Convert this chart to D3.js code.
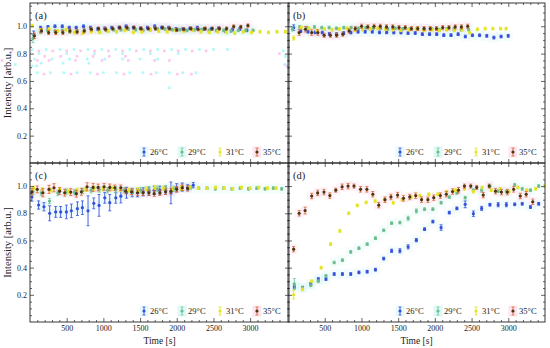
<!DOCTYPE html>
<html>
<head>
<meta charset="utf-8">
<script src="https://cdn.jsdelivr.net/npm/d3@7"></script>
<style>
  body { margin: 0; background: #fff; }
  text { font-family: "Liberation Serif", "DejaVu Serif", serif; }
</style>
</head>
<body>
<div id="chart"></div>
<script>
// ---- data: [time s, intensity, error] ----
const temps = ["26°C", "29°C", "31°C", "35°C"]
const panelLabels = ["(a)", "(b)", "(c)", "(d)"]
const xMajor = [500, 1000, 1500, 2000, 2500, 3000]
const yMajor = [0.2, 0.4, 0.6, 0.8, 1.0]

const a26 = [[50,0.94,0.025],[145,0.99,0.01],[245,0.995,0.01],[340,1.0,0.01],[440,1.0,0.01],[535,0.99,0.01],[630,0.99,0.01],[730,1.0,0.01],[825,0.99,0.01],[925,0.98,0.01],[1020,0.985,0.01],[1115,0.99,0.01],[1215,0.99,0.01],[1310,1.0,0.01],[1410,0.99,0.01],[1505,0.985,0.01],[1600,0.99,0.01],[1700,1.0,0.01],[1795,0.99,0.01],[1890,0.99,0.01],[1990,0.98,0.01],[2085,0.98,0.01],[2180,0.985,0.01],[2280,0.99,0.01],[2375,0.98,0.01],[2470,0.98,0.01],[2570,0.985,0.01],[2665,0.965,0.01],[2760,0.975,0.01],[2860,0.98,0.01],[2955,0.97,0.01]]
const a29 = [[40,0.91,0.03],[140,0.96,0.015],[240,0.97,0.01],[340,0.965,0.01],[440,0.97,0.01],[540,0.96,0.01],[640,0.965,0.01],[740,0.97,0.01],[840,0.975,0.01],[940,0.97,0.01],[1040,0.97,0.01],[1140,0.975,0.01],[1240,0.975,0.01],[1340,0.98,0.01],[1440,0.975,0.01],[1540,0.97,0.01],[1640,0.975,0.01],[1740,0.98,0.01],[1840,0.98,0.01],[1940,0.975,0.01],[2040,0.975,0.01],[2140,0.97,0.01],[2240,0.975,0.01],[2340,0.975,0.01],[2440,0.97,0.01],[2540,0.97,0.01],[2640,0.97,0.01],[2740,0.965,0.01],[2840,0.97,0.01],[2940,0.97,0.01],[3040,0.97,0.01]]
const a31 = [[30,1.005,0.01],[145,0.975,0.01],[260,0.98,0.01],[375,0.965,0.01],[490,0.975,0.01],[605,0.955,0.01],[720,0.95,0.01],[835,0.96,0.01],[950,0.955,0.01],[1065,0.965,0.01],[1180,0.96,0.01],[1295,0.97,0.01],[1410,0.955,0.01],[1525,0.96,0.01],[1640,0.975,0.01],[1755,0.965,0.01],[1870,0.96,0.01],[1985,0.97,0.01],[2100,0.965,0.01],[2215,0.97,0.01],[2330,0.96,0.01],[2445,0.955,0.01],[2560,0.96,0.01],[2675,0.955,0.01],[2790,0.95,0.01],[2905,0.96,0.01],[3020,0.955,0.01],[3135,0.96,0.01],[3250,0.955,0.01],[3365,0.96,0.01],[3480,0.96,0.01]]
const a35 = [[60,0.93,0.02],[157,0.966,0.015],[254,0.954,0.015],[351,0.954,0.015],[448,0.954,0.015],[545,0.966,0.015],[642,0.959,0.015],[739,0.966,0.015],[836,0.978,0.012],[933,0.983,0.012],[1030,0.978,0.012],[1127,0.983,0.012],[1224,0.99,0.012],[1321,0.99,0.012],[1418,0.99,0.012],[1515,0.983,0.012],[1612,0.983,0.012],[1709,0.983,0.012],[1806,0.99,0.012],[1903,0.983,0.012],[2000,0.973,0.012],[2097,0.978,0.012],[2194,0.983,0.012],[2291,0.978,0.012],[2388,0.983,0.012],[2485,0.983,0.012],[2582,0.983,0.012],[2679,0.983,0.012],[2776,0.998,0.012],[2873,0.995,0.012],[2970,1.005,0.012]]

const b26 = [[77,0.99,0.02],[174,0.965,0.01],[272,0.96,0.01],[369,0.955,0.01],[467,0.954,0.01],[564,0.945,0.01],[661,0.942,0.01],[759,0.95,0.01],[856,0.954,0.01],[954,0.96,0.01],[1051,0.96,0.01],[1148,0.96,0.01],[1246,0.955,0.01],[1343,0.955,0.01],[1441,0.954,0.01],[1538,0.954,0.01],[1635,0.95,0.01],[1733,0.95,0.01],[1830,0.942,0.01],[1928,0.942,0.01],[2025,0.942,0.01],[2122,0.935,0.01],[2220,0.935,0.01],[2317,0.942,0.01],[2415,0.925,0.01],[2512,0.934,0.01],[2609,0.934,0.01],[2707,0.93,0.01],[2804,0.917,0.01],[2902,0.925,0.01],[2999,0.93,0.01]]
const b29 = [[60,0.98,0.015],[160,0.995,0.01],[260,0.99,0.01],[360,0.995,0.01],[460,0.99,0.01],[560,0.99,0.01],[660,0.985,0.01],[760,0.99,0.01],[860,0.99,0.01],[960,0.985,0.01],[1060,0.99,0.01],[1160,0.985,0.01],[1260,0.985,0.01],[1360,0.98,0.01],[1460,0.985,0.01],[1560,0.98,0.01],[1660,0.98,0.01],[1760,0.985,0.01],[1860,0.98,0.01],[1960,0.98,0.01],[2060,0.975,0.01],[2160,0.98,0.01],[2260,0.98,0.01],[2360,0.975,0.01],[2460,0.975,0.01]]
const b31 = [[77,0.914,0.015],[180,0.99,0.01],[285,0.985,0.01],[390,0.97,0.01],[495,0.98,0.01],[600,0.975,0.01],[700,0.98,0.01],[805,0.985,0.01],[910,0.97,0.01],[1015,0.975,0.01],[1120,0.98,0.01],[1225,0.985,0.01],[1330,0.98,0.01],[1430,0.975,0.01],[1535,0.97,0.01],[1640,0.975,0.01],[1745,0.98,0.01],[1850,0.97,0.01],[1955,0.975,0.01],[2060,0.97,0.01],[2160,0.975,0.01],[2265,0.97,0.01],[2370,0.975,0.01],[2475,0.954,0.01],[2580,0.978,0.01],[2685,0.983,0.01],[2790,0.983,0.01],[2895,0.983,0.01],[2970,0.983,0.01]]
const b35 = [[152,0.954,0.02],[237,0.978,0.02],[322,0.954,0.02],[407,0.954,0.02],[492,0.934,0.015],[577,0.934,0.015],[662,0.934,0.015],[747,0.942,0.015],[832,0.966,0.015],[917,0.983,0.015],[1002,1.0,0.015],[1087,0.995,0.015],[1172,1.0,0.015],[1257,1.0,0.015],[1342,0.995,0.015],[1427,0.995,0.015],[1512,0.99,0.015],[1597,0.99,0.015],[1682,0.983,0.015],[1767,0.983,0.015],[1852,0.983,0.015],[1937,0.983,0.015],[2022,0.983,0.015],[2107,0.99,0.015],[2192,0.99,0.015],[2277,0.995,0.015],[2362,0.995,0.015],[2447,1.0,0.015]]

const c26 = [[26,0.919,0.03],[117,0.861,0.03],[190,0.848,0.03],[268,0.80,0.055],[350,0.81,0.04],[418,0.81,0.04],[496,0.81,0.05],[564,0.818,0.05],[646,0.834,0.05],[714,0.841,0.05],[791,0.818,0.11],[869,0.873,0.04],[941,0.858,0.08],[1019,0.914,0.04],[1087,0.878,0.06],[1169,0.914,0.04],[1238,0.926,0.05],[1315,0.951,0.04],[1392,0.951,0.03],[1466,0.951,0.03],[1542,0.958,0.03],[1620,0.963,0.03],[1693,0.97,0.03],[1770,0.97,0.03],[1848,0.97,0.03],[1921,0.95,0.08],[1999,0.988,0.03],[2075,0.993,0.03],[2150,0.99,0.02],[2225,1.007,0.02]]
const c29 = [[40,0.96,0.02],[153,0.95,0.02],[266,0.89,0.02],[379,0.95,0.02],[492,0.96,0.02],[605,0.955,0.02],[718,0.965,0.02],[831,0.97,0.02],[944,0.975,0.02],[1057,0.97,0.02],[1170,0.975,0.02],[1283,0.97,0.02],[1396,0.965,0.02],[1509,0.97,0.02],[1622,0.975,0.02],[1735,0.98,0.02],[1848,0.985,0.02],[1961,0.98,0.02],[2074,0.985,0.02],[2187,0.99,0.015],[2300,0.985,0.01],[2413,0.985,0.01],[2526,0.98,0.01],[2639,0.985,0.01],[2752,0.98,0.01],[2865,0.985,0.01],[2978,0.98,0.01],[3091,0.985,0.01],[3204,0.98,0.01],[3317,0.985,0.01],[3430,0.98,0.01]]
const c31 = [[50,0.985,0.015],[168,0.975,0.015],[286,0.97,0.015],[404,0.975,0.015],[522,0.96,0.015],[640,0.97,0.015],[758,0.975,0.015],[876,0.985,0.015],[994,0.98,0.015],[1112,0.985,0.015],[1230,0.975,0.015],[1348,0.97,0.015],[1466,0.975,0.015],[1584,0.98,0.015],[1702,0.99,0.015],[1820,0.985,0.015],[1938,0.98,0.015],[2056,0.985,0.015],[2174,0.99,0.01],[2292,0.985,0.01],[2410,0.985,0.01],[2528,0.99,0.01],[2646,0.985,0.01],[2764,0.98,0.01],[2882,0.99,0.01],[3000,0.985,0.01],[3118,0.99,0.01],[3236,0.985,0.01],[3354,0.985,0.01]]
const c35 = [[26,0.958,0.025],[99,0.976,0.025],[176,0.951,0.03],[259,0.976,0.03],[327,0.988,0.03],[404,0.963,0.025],[473,0.951,0.025],[555,0.956,0.025],[632,0.944,0.025],[700,0.958,0.025],[778,0.995,0.03],[860,0.99,0.03],[928,0.99,0.025],[1010,0.995,0.025],[1087,0.99,0.025],[1156,0.988,0.02],[1238,0.988,0.02],[1306,0.963,0.02],[1384,0.958,0.02],[1466,0.951,0.02],[1542,0.951,0.02],[1620,0.951,0.02],[1693,0.944,0.02],[1770,0.951,0.02],[1848,0.958,0.02],[1921,0.963,0.02],[1999,0.976,0.02],[2075,0.988,0.02],[2148,0.983,0.02]]

const d26 = [[86,0.26,0.015],[198,0.25,0.01],[310,0.28,0.01],[413,0.316,0.01],[517,0.316,0.01],[629,0.353,0.01],[741,0.353,0.01],[854,0.353,0.01],[966,0.365,0.01],[1078,0.37,0.01],[1191,0.385,0.01],[1303,0.467,0.01],[1411,0.524,0.012],[1524,0.524,0.015],[1636,0.553,0.015],[1748,0.602,0.012],[1860,0.683,0.01],[1973,0.739,0.01],[2085,0.695,0.02],[2197,0.805,0.01],[2300,0.836,0.01],[2413,0.866,0.025],[2525,0.797,0.02],[2637,0.836,0.015],[2750,0.863,0.01],[2862,0.863,0.015],[2974,0.863,0.015],[3087,0.866,0.01],[3190,0.87,0.01],[3302,0.846,0.01],[3414,0.87,0.01]]
const d29 = [[86,0.28,0.04],[198,0.25,0.015],[310,0.27,0.01],[413,0.30,0.01],[517,0.34,0.01],[629,0.438,0.01],[741,0.455,0.01],[854,0.516,0.01],[966,0.543,0.01],[1078,0.573,0.01],[1191,0.617,0.01],[1303,0.675,0.01],[1411,0.727,0.01],[1524,0.732,0.01],[1636,0.763,0.015],[1748,0.817,0.015],[1860,0.83,0.01],[1973,0.83,0.01],[2085,0.878,0.01],[2197,0.919,0.01],[2300,0.95,0.01],[2413,0.915,0.01],[2525,0.97,0.01],[2637,0.97,0.015],[2750,1.0,0.01],[2862,0.963,0.01],[2974,0.96,0.01],[3087,1.01,0.01],[3190,0.98,0.01],[3302,0.97,0.01],[3414,1.0,0.01]]
const d31 = [[77,0.20,0.03],[198,0.24,0.01],[323,0.30,0.01],[451,0.40,0.01],[580,0.573,0.01],[705,0.67,0.01],[827,0.80,0.01],[943,0.858,0.01],[1065,0.88,0.01],[1186,0.89,0.01],[1312,0.90,0.01],[1433,0.877,0.01],[1555,0.90,0.01],[1676,0.92,0.01],[1797,0.93,0.01],[1918,0.94,0.01],[2040,0.94,0.01],[2161,0.96,0.01],[2282,0.97,0.01],[2403,0.98,0.01],[2525,0.96,0.01],[2646,0.99,0.01],[2767,0.97,0.01],[2889,0.98,0.01],[3010,0.96,0.01],[3131,0.99,0.01],[3252,0.97,0.01],[3374,0.98,0.01],[3495,1.0,0.01]]
const d35 = [[77,0.536,0.02],[152,0.80,0.02],[233,0.82,0.025],[323,0.927,0.02],[404,0.95,0.02],[490,0.956,0.02],[570,0.93,0.02],[651,0.97,0.015],[737,0.995,0.02],[818,1.0,0.02],[899,1.0,0.015],[988,0.976,0.02],[1074,0.976,0.02],[1155,0.94,0.02],[1236,0.86,0.02],[1321,0.90,0.02],[1402,0.92,0.02],[1492,0.934,0.02],[1573,0.91,0.02],[1658,0.92,0.02],[1739,0.93,0.02],[1819,0.90,0.02],[1905,0.90,0.02],[1985,0.915,0.02],[2075,0.93,0.02],[2156,0.94,0.02],[2241,0.96,0.02],[2322,0.97,0.02],[2403,1.0,0.015],[2489,1.0,0.015],[2570,0.99,0.015],[2659,0.934,0.02],[2740,1.0,0.015],[2826,0.963,0.02],[2907,0.956,0.02],[2988,0.956,0.02],[3073,0.976,0.02],[3163,0.927,0.02],[3244,0.94,0.02],[3333,0.885,0.02]]

// faint ghost marks seen in panel (a)
const ghostCyan = [[30,0.83],[220,0.83],[410,0.83],[600,0.83],[790,0.83],[980,0.83],[1170,0.83],[1360,0.83],[1550,0.83],[1740,0.83],[1930,0.83],[2120,0.83],[2310,0.83],[2500,0.83],[2690,0.83],
  [120,0.80],[500,0.80],[880,0.80],[1260,0.80],[1640,0.80],[2020,0.80],
  [60,0.76],[300,0.76],[540,0.76],[780,0.76],[1020,0.76],[1260,0.76],[1500,0.76],[1740,0.76],
  [150,0.73],[450,0.73],[800,0.73],[30,0.71],[90,0.71],
  [100,0.66],[280,0.66],[460,0.66],[640,0.66],[820,0.66],[1000,0.66],[1180,0.66],[1360,0.66],[1540,0.66],[1720,0.66],[1900,0.66],[2080,0.66],[2260,0.66],
  [1900,0.55],[3450,0.82],[3480,0.78],[3470,0.72],[-300,0.79],[-200,0.72]]
const ghostPink = [[120,0.82],[310,0.82],[500,0.82],[690,0.82],[880,0.82],[1070,0.82],[1260,0.82],[1450,0.82],[1640,0.82],[1830,0.82],[2020,0.82],[2210,0.82],[2400,0.82],
  [200,0.78],[420,0.78],[640,0.78],[860,0.78],[1080,0.78],[1300,0.78],
  [100,0.75],[260,0.75],[620,0.75],[980,0.75],[1340,0.75],[1700,0.75],[1900,0.75],
  [190,0.65],[560,0.65],[920,0.65],[1280,0.65],[1650,0.65],[2010,0.65],[2200,0.65],
  [3400,0.80],[3500,0.71],[-380,0.75],[-260,0.81]]

const panelData = [[a26, a29, a31, a35], [b26, b29, b31, b35], [c26, c29, c31, c35], [d26, d29, d31, d35]]

// ---- layout ----
const width = 550, height = 348
const cols = [[30, 289], [288, 545]]
const rows = [[3, 163], [163, 322]]
const xDomains = [[0, 3530], [0, 3500]]

const pointColor = ["#3550dc", "#6dbb8c", "#e4e422", "#4f3310"]
const barColor = ["#3550dc", "#7cc79a", "#e4e422", "#d9652e"]
const bandColor = ["#c6f2f6", "#c6f6f2", null, "#fbd2ea"]
const legendOffsets = [-145, -107, -69, -32]

const svg = d3.select("#chart").append("svg")
  .attr("width", width)
  .attr("height", height)

const xMinor = d3.range(100, 3600, 100).filter(d => d % 500 !== 0)
const yMinor = d3.range(0.05, 1.16, 0.05).filter(d => Math.abs(d * 5 - Math.round(d * 5)) > 1e-6)

panelData.forEach((series, p) => {
  const col = p % 2, row = Math.floor(p / 2)
  const [x0, x1] = cols[col], [y0, y1] = rows[row]

  const x = d3.scaleLinear().domain(xDomains[col]).range([x0, x1])
  const y = d3.scaleLinear().domain([0, 1.17]).range([y1, y0])

  const g = svg.append("g")

  // ghost marks (panel a only)
  if (p === 0) {
    g.selectAll(".gc").data(ghostCyan).join("rect")
      .attr("x", d => x(d[0]) - 1.3).attr("y", d => y(d[1]) - 1.3)
      .attr("width", 2.6).attr("height", 2.6)
      .attr("fill", "#6ff2f4").attr("opacity", 0.55)
    g.selectAll(".gp").data(ghostPink).join("rect")
      .attr("x", d => x(d[0]) - 1.3).attr("y", d => y(d[1]) - 1.3)
      .attr("width", 2.6).attr("height", 2.6)
      .attr("fill", "#f79be4").attr("opacity", 0.55)
  }

  const clipId = "clip" + p
  svg.append("clipPath").attr("id", clipId)
    .append("rect").attr("x", x0).attr("y", y0).attr("width", x1 - x0).attr("height", y1 - y0)
  const plot = g.append("g").attr("clip-path", "url(#" + clipId + ")")

  // light band boxes behind points
  series.forEach((s, i) => {
    if (!bandColor[i]) return
    plot.append("g").selectAll("rect").data(s).join("rect")
      .attr("x", d => x(d[0]) - 4.5)
      .attr("y", d => y(d[1]) - 5)
      .attr("width", 9).attr("height", 10)
      .attr("fill", bandColor[i]).attr("opacity", 0.2)
  })

  series.forEach((s, i) => {
    const sg = plot.append("g")
    sg.selectAll("line.bar").data(s).join("line")
      .attr("x1", d => x(d[0])).attr("x2", d => x(d[0]))
      .attr("y1", d => y(d[1] - d[2])).attr("y2", d => y(d[1] + d[2]))
      .attr("stroke", barColor[i]).attr("stroke-width", 0.9)
    sg.selectAll("line.capT").data(s).join("line")
      .attr("x1", d => x(d[0]) - 1.5).attr("x2", d => x(d[0]) + 1.5)
      .attr("y1", d => y(d[1] + d[2])).attr("y2", d => y(d[1] + d[2]))
      .attr("stroke", barColor[i]).attr("stroke-width", 0.8)
    sg.selectAll("line.capB").data(s).join("line")
      .attr("x1", d => x(d[0]) - 1.5).attr("x2", d => x(d[0]) + 1.5)
      .attr("y1", d => y(d[1] - d[2])).attr("y2", d => y(d[1] - d[2]))
      .attr("stroke", barColor[i]).attr("stroke-width", 0.8)
    sg.selectAll("circle").data(s).join("circle")
      .attr("cx", d => x(d[0])).attr("cy", d => y(d[1]))
      .attr("r", 1.6).attr("fill", pointColor[i])
  })

  // frame + ticks (inward)
  const fmtY = d3.format(".1f")
  const axes = [
    [d3.axisBottom(x).tickValues(xMajor).tickSize(-4).tickPadding(3).tickFormat(row === 1 ? d3.format("d") : ""), `translate(0,${y1})`],
    [d3.axisBottom(x).tickValues(xMinor).tickSize(-2).tickFormat(""), `translate(0,${y1})`],
    [d3.axisTop(x).tickValues(xMajor).tickSize(-4).tickFormat(""), `translate(0,${y0})`],
    [d3.axisTop(x).tickValues(xMinor).tickSize(-2).tickFormat(""), `translate(0,${y0})`],
    [d3.axisLeft(y).tickValues(yMajor).tickSize(-4).tickPadding(3).tickFormat(col === 0 ? fmtY : ""), `translate(${x0},0)`],
    [d3.axisLeft(y).tickValues(yMinor).tickSize(-2).tickFormat(""), `translate(${x0},0)`],
    [d3.axisRight(y).tickValues(yMajor).tickSize(-4).tickFormat(""), `translate(${x1},0)`],
    [d3.axisRight(y).tickValues(yMinor).tickSize(-2).tickFormat(""), `translate(${x1},0)`]
  ]
  axes.forEach(([ax, tr]) => {
    const a = g.append("g").attr("transform", tr).call(ax)
    a.select(".domain").remove()
    a.selectAll("line").attr("stroke", "#222").attr("stroke-width", 0.7)
    a.selectAll("text").attr("font-size", 8).attr("fill", "#222")
      .style("font-family", '"Liberation Serif", serif')
  })
  g.append("rect")
    .attr("x", x0).attr("y", y0).attr("width", x1 - x0).attr("height", y1 - y0)
    .attr("fill", "none").attr("stroke", "#222").attr("stroke-width", 0.9)

  // panel label
  g.append("text")
    .attr("x", x0 + 5).attr("y", y0 + 16)
    .attr("font-size", 10.5).attr("fill", "#222")
    .text(panelLabels[p])

  // legend
  const legend = g.append("g").attr("transform", `translate(${x1},${y1 - 11})`)
  temps.forEach((t, i) => {
    const lx = legendOffsets[i]
    if (bandColor[i]) {
      legend.append("rect").attr("x", lx - 4.5).attr("y", -5.5).attr("width", 9).attr("height", 11)
        .attr("fill", bandColor[i]).attr("opacity", i === 0 ? 0.4 : 0.6)
    }
    legend.append("line").attr("x1", lx).attr("x2", lx).attr("y1", -4).attr("y2", 4)
      .attr("stroke", barColor[i]).attr("stroke-width", 0.9)
    legend.append("line").attr("x1", lx - 1.5).attr("x2", lx + 1.5).attr("y1", -4).attr("y2", -4)
      .attr("stroke", barColor[i]).attr("stroke-width", 0.8)
    legend.append("line").attr("x1", lx - 1.5).attr("x2", lx + 1.5).attr("y1", 4).attr("y2", 4)
      .attr("stroke", barColor[i]).attr("stroke-width", 0.8)
    legend.append("circle").attr("cx", lx).attr("cy", 0).attr("r", 1.6).attr("fill", pointColor[i])
    legend.append("text").attr("x", lx + 6).attr("y", 0).attr("dy", "0.35em")
      .attr("font-size", 8.5).attr("fill", "#222").text(t)
  })

  // axis titles
  if (col === 0) {
    g.append("text")
      .attr("transform", `translate(11,${(y0 + y1) / 2}) rotate(-90)`)
      .attr("text-anchor", "middle")
      .attr("font-size", 10.5).attr("fill", "#222")
      .text("Intensity [arb.u.]")
  }
  if (row === 1) {
    g.append("text")
      .attr("x", (x0 + x1) / 2).attr("y", 344)
      .attr("text-anchor", "middle")
      .attr("font-size", 9.5).attr("fill", "#222")
      .text("Time [s]")
  }
})
</script>
</body>
</html>
